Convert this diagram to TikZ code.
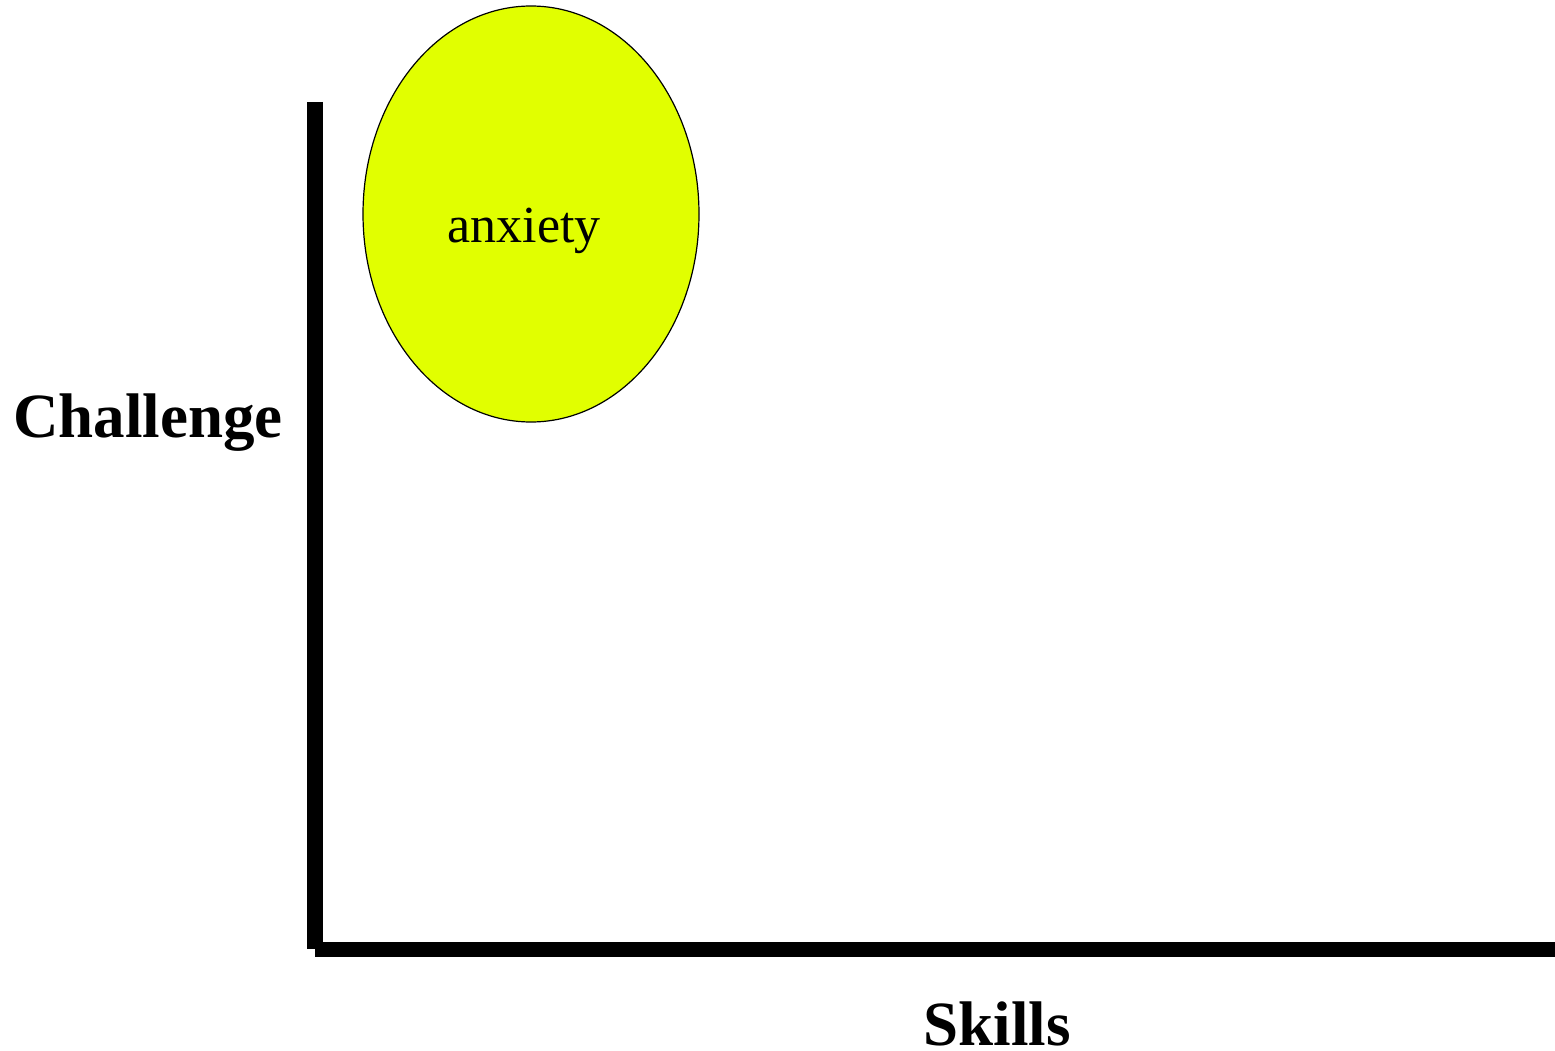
\documentclass[tikz,border=0pt]{standalone}
\usepackage{fontspec}
\setmainfont{Liberation Serif}
\usetikzlibrary{shapes.geometric}
\definecolor{zoneyellow}{RGB}{225,255,0}
\tikzset{
  axisline/.style={line width=16pt, line cap=butt},
  zone/.style={ellipse, draw=black, line width=1.2pt, fill=zoneyellow,
    minimum width=336pt, minimum height=416pt, inner sep=0pt},
  zonelabel/.style={anchor=base, font=\fontsize{52}{52}\selectfont},
  axislabel/.style={anchor=base, font=\fontsize{63}{63}\selectfont\bfseries}
}
\begin{document}
\begin{tikzpicture}[x=1pt,y=-1pt]
  \useasboundingbox (0,0) rectangle (1555,1051);
  % axes
  \coordinate (top) at (315,102);
  \coordinate (origin) at (315,949);
  \coordinate (xend) at (1555,949);
  \draw[axisline] (top) -- (origin);
  \draw[line width=15pt] (origin) -- (xend);
  % region
  \node[zone] (anxietyzone) at (531,214) {};
  \node[zonelabel] (anxietytext) at (524,243) {anxiety};
  % axis labels
  \node[axislabel] (challenge) at (148,437) {Challenge};
  \node[axislabel] (skills) at (997,1045) {Skills};
\end{tikzpicture}
\end{document}
